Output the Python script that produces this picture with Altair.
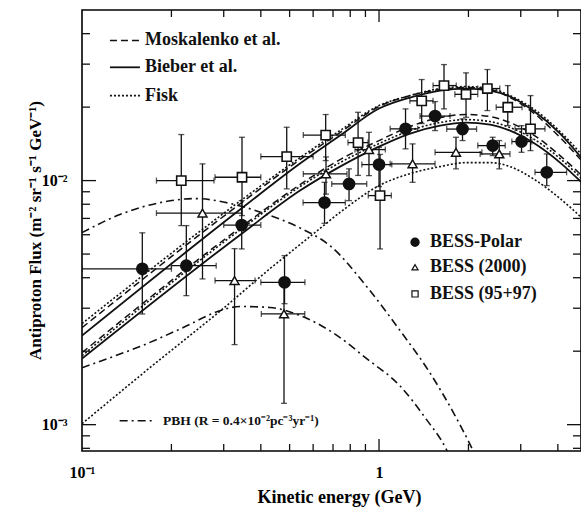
import altair as alt
import pandas as pd

FONT = "Liberation Serif"
XMIN, XMAX = 0.1, 4.786
YMIN, YMAX = 0.00078, 0.05
W, H = 499, 441

# ---- model curves ----
band_x = [0.1, 0.3484, 0.542, 0.739, 1.0, 1.2717, 1.6046, 1.963, 2.364, 2.761, 3.300, 4.069, 5.01]
upper_bieber = [0.002316, 0.007773, 0.01174, 0.01529, 0.01973, 0.02189, 0.02338, 0.02383, 0.02338, 0.02210, 0.01936, 0.01558, 0.01163]
upper_fisk = [0.002594, 0.008414, 0.01242, 0.01603, 0.02030, 0.02230, 0.02383, 0.02428, 0.02383, 0.02230, 0.01973, 0.01588, 0.01208]
upper_mosk = [0.002497, 0.00820, 0.01219, 0.01573, 0.02011, 0.02230, 0.02360, 0.02405, 0.02360, 0.02189, 0.01900, 0.01501, 0.01141]
lower_mosk = [0.001972, 0.00654, 0.009629, 0.01219, 0.01459, 0.01665, 0.01812, 0.01865, 0.01829, 0.01729, 0.01544, 0.01266, 0.0100]
lower_fisk = [0.001917, 0.006417, 0.009449, 0.01185, 0.01418, 0.01603, 0.01729, 0.01778, 0.01745, 0.01649, 0.01486, 0.01231, 0.00972]
lower_bieber = [0.001864, 0.006119, 0.00910, 0.01141, 0.01378, 0.01558, 0.01680, 0.01729, 0.01696, 0.01603, 0.01431, 0.01185, 0.00936]

low_fisk_x = [0.1, 0.1694, 0.2984, 0.4296, 0.5856, 0.7682, 1.0, 1.2717, 1.6046, 1.963, 2.364, 2.761, 3.300, 4.069, 5.01]
low_fisk_y = [0.001009, 0.001713, 0.002988, 0.004358, 0.005895, 0.007678, 0.009539, 0.01068, 0.01141, 0.01185, 0.01185, 0.01141, 0.01019, 0.008438, 0.006728]

pbh1_x = [0.1, 0.1342, 0.1831, 0.2403, 0.3276, 0.4297, 0.542, 0.684, 0.904, 1.177, 1.484, 1.802, 2.057, 2.188]
pbh1_y = [0.00612, 0.00726, 0.00812, 0.00844, 0.00797, 0.00719, 0.00640, 0.00541, 0.00371, 0.00243, 0.00163, 0.00109, 0.000798, 0.000679]
pbh2_x = [0.1, 0.1242, 0.1567, 0.2193, 0.2915, 0.3403, 0.4297, 0.542, 0.7002, 0.9112, 1.177, 1.428, 1.694, 1.803]
pbh2_y = [0.00171, 0.00188, 0.00209, 0.00250, 0.00293, 0.00305, 0.00302, 0.00280, 0.00238, 0.00186, 0.00144, 0.00107, 0.000782, 0.00066]

# ---- data points ----
polar_x = [0.1596, 0.2245, 0.3449, 0.4807, 0.6554, 0.7925, 1.0, 1.228, 1.544, 1.910, 2.414, 3.018, 3.67]
polar_y = [0.00435, 0.00448, 0.006571, 0.00383, 0.008124, 0.00969, 0.01163, 0.01629, 0.01838, 0.01626, 0.01391, 0.01445, 0.01081]
polar_ylo = [0.00284, 0.003378, 0.005249, 0.003131, 0.006683, 0.00828, 0.00945, 0.01349, 0.01603, 0.01459, 0.01266, 0.01306, 0.00954]
polar_yhi = [0.00611, 0.00654, 0.00828, 0.004928, 0.00984, 0.01117, 0.01369, 0.01967, 0.02107, 0.01790, 0.01505, 0.01680, 0.01286]
polar_xlo = [0.1, 0.2, 0.3, 0.4, 0.555, 0.693, 0.875, 1.09, 1.374, 1.69, 2.15, 2.8, 3.35]
polar_xhi = [0.2, 0.283, 0.4, 0.563, 0.77, 0.909, 1.104, 1.35, 1.734, 2.13, 2.66, 3.27, 4.28]

b2000_x = [0.2545, 0.3263, 0.4787, 0.663, 0.925, 1.297, 1.816, 2.54]
b2000_y = [0.00736, 0.003892, 0.002842, 0.01065, 0.0134, 0.01171, 0.01306, 0.01286]
b2000_ylo = [0.003955, 0.002128, 0.001223, 0.0088, 0.01048, 0.00984, 0.01117, 0.01117]
b2000_yhi = [0.01171, 0.005264, 0.003714, 0.0125, 0.01577, 0.01414, 0.01505, 0.01459]
b2000_xlo = [0.1781, 0.2805, 0.4015, 0.556, 0.83, 1.09, 1.544, 2.19]
b2000_xhi = [0.3449, 0.3825, 0.5623, 0.78, 1.05, 1.544, 2.22, 2.76]

b9597_x = [0.2159, 0.3457, 0.4889, 0.6613, 0.8501, 1.008, 1.392, 1.655, 1.963, 2.316, 2.713, 3.236]
b9597_y = [0.0100, 0.01032, 0.01254, 0.01536, 0.01431, 0.00868, 0.02122, 0.02451, 0.02256, 0.02383, 0.01998, 0.01629]
b9597_ylo = [0.00654, 0.00719, 0.00925, 0.01208, 0.0105, 0.005248, 0.01713, 0.01967, 0.01817, 0.01936, 0.0168, 0.01327]
b9597_yhi = [0.01544, 0.01505, 0.01654, 0.01865, 0.01905, 0.0128, 0.02594, 0.02988, 0.02763, 0.02851, 0.02451, 0.0223]
b9597_xlo = [0.1781, 0.2805, 0.4, 0.556, 0.786, 0.92, 1.27, 1.52, 1.8, 2.15, 2.48, 2.87]
b9597_xhi = [0.2782, 0.4, 0.6, 0.77, 0.918, 1.1, 1.52, 1.82, 2.15, 2.55, 3.03, 3.62]

# ---- ticks ----
x_minor = [0.2, 0.3, 0.4, 0.5, 0.6, 0.7, 0.8, 0.9, 2, 3, 4]
x_major = [1.0]
y_minor = [0.0008, 0.0009, 0.002, 0.003, 0.004, 0.005, 0.006, 0.007, 0.008, 0.009, 0.02, 0.03, 0.04]
y_major = [0.001, 0.01]

# ---- legends (data coordinates) ----
model_names = ["Moskalenko et al.", "Bieber et al.", "Fisk"]
model_y = [0.0375, 0.02912, 0.0223]
model_line_x = [0.1242, 0.1567]
model_text_x = 0.163
exp_names = ["BESS-Polar", "BESS (2000)", "BESS (95+97)"]
exp_y = [0.005588, 0.004413, 0.003433]
exp_sym_x = 1.322
exp_text_x = 1.485
pbh_label = "PBH (R = 0.4\u00d710\u207b\u00b2pc\u207b\u00b3yr\u207b\u00b9)"
pbh_line_x = [0.1339, 0.1757]
pbh_text_x = 0.1874
pbh_y = 0.001038

xs = alt.Scale(type="log", domain=[XMIN, XMAX], nice=False)
ys = alt.Scale(type="log", domain=[YMIN, YMAX], nice=False)

xaxis = alt.Axis(values=[0.1, 1], labelExpr="datum.value < 0.5 ? '10\u207b\u00b9' : '1'",
                 ticks=False, domain=False, grid=False, labelFlush=False, labelOverlap=False,
                 labelFont=FONT, labelFontWeight="bold", labelFontSize=16, labelColor="black",
                 labelPadding=13, title="Kinetic energy (GeV)", titleFont=FONT,
                 titleFontWeight="bold", titleFontSize=18, titleColor="black",
                 titleX=257, titleY=46, titleBaseline="middle", titleAlign="center")
yaxis = alt.Axis(values=[0.001, 0.01], labelExpr="datum.value > 0.005 ? '10\u207b\u00b2' : '10\u207b\u00b3'",
                 ticks=False, domain=False, grid=False, labelFlush=False, labelOverlap=False,
                 labelFont=FONT, labelFontWeight="bold", labelFontSize=16, labelColor="black",
                 labelPadding=15, title="Antiproton Flux (m\u207b\u00b2 sr\u207b\u00b9 s\u207b\u00b9 GeV\u207b\u00b9)",
                 titleFont=FONT, titleFontWeight="bold", titleFontSize=17, titleColor="black",
                 titleX=-47, titleY=220, titleAngle=270, titleBaseline="middle", titleAlign="center")


def X(f):
    return alt.X(f, type="quantitative", scale=xs, axis=xaxis)


def Y(f):
    return alt.Y(f, type="quantitative", scale=ys, axis=yaxis)


INK = "#111111"
DASH = [7, 4]
DOT = [2, 2]
DASHDOT = [8, 4, 2, 4]


def curve(xv, yv, dash=None, width=1.5):
    df = pd.DataFrame({"x": xv, "y": yv})
    kw = dict(interpolate="monotone", clip=True, color=INK, strokeWidth=width)
    if dash:
        kw["strokeDash"] = dash
    return alt.Chart(df).mark_line(**kw).encode(x=X("x"), y=Y("y"))


layers = [
    curve(band_x, upper_bieber, None, 1.8),
    curve(band_x, upper_fisk, DOT, 1.6),
    curve(band_x, upper_mosk, DASH, 1.5),
    curve(band_x, lower_mosk, DASH, 1.5),
    curve(band_x, lower_fisk, DOT, 1.6),
    curve(band_x, lower_bieber, None, 1.8),
    curve(low_fisk_x, low_fisk_y, DOT, 1.6),
    curve(pbh1_x, pbh1_y, DASHDOT, 1.6),
    curve(pbh2_x, pbh2_y, DASHDOT, 1.6),
]


def points(xv, yv, ylo, yhi, xlo, xhi, marker):
    df = pd.DataFrame({"x": xv, "y": yv, "ylo": ylo, "yhi": yhi, "xlo": xlo, "xhi": xhi})
    base = alt.Chart(df)
    out = [
        base.mark_rule(color=INK, strokeWidth=1.3, clip=True).encode(x=X("x"), y=Y("ylo"), y2="yhi"),
        base.mark_rule(color=INK, strokeWidth=1.3, clip=True).encode(x=X("xlo"), x2="xhi", y=Y("y")),
        base.mark_tick(orient="horizontal", size=6, thickness=1.3, color=INK, clip=True).encode(x=X("x"), y=Y("yhi")),
        base.mark_tick(orient="horizontal", size=6, thickness=1.3, color=INK, clip=True).encode(x=X("x"), y=Y("ylo")),
        base.mark_tick(orient="vertical", size=6, thickness=1.3, color=INK, clip=True).encode(x=X("xlo"), y=Y("y")),
        base.mark_tick(orient="vertical", size=6, thickness=1.3, color=INK, clip=True).encode(x=X("xhi"), y=Y("y")),
    ]
    return out, base.mark_point(clip=True, opacity=1, **marker).encode(x=X("x"), y=Y("y"))


m_polar = dict(shape="circle", filled=True, fill=INK, stroke=INK, size=115)
m_2000 = dict(shape="triangle-up", filled=True, fill="white", stroke=INK, strokeWidth=1.5, size=80)
m_9597 = dict(shape="square", filled=True, fill="white", stroke=INK, strokeWidth=1.6, size=85)

e1, p1 = points(polar_x, polar_y, polar_ylo, polar_yhi, polar_xlo, polar_xhi, m_polar)
e2, p2 = points(b2000_x, b2000_y, b2000_ylo, b2000_yhi, b2000_xlo, b2000_xhi, m_2000)
e3, p3 = points(b9597_x, b9597_y, b9597_ylo, b9597_yhi, b9597_xlo, b9597_xhi, m_9597)
layers += e1 + e2 + e3 + [p2, p3, p1]

# ticks inside the frame
for vals, ln in [(x_minor, 7), (x_major, 12)]:
    d = pd.DataFrame({"v": vals})
    layers.append(alt.Chart(d).mark_rule(color=INK, strokeWidth=1.3).encode(
        x=X("v"), y=alt.value(H), y2=alt.value(H - ln)))
    layers.append(alt.Chart(d).mark_rule(color=INK, strokeWidth=1.3).encode(
        x=X("v"), y=alt.value(0), y2=alt.value(ln)))
for vals, ln in [(y_minor, 8), (y_major, 14)]:
    d = pd.DataFrame({"v": vals})
    layers.append(alt.Chart(d).mark_rule(color=INK, strokeWidth=1.3).encode(
        y=Y("v"), x=alt.value(0), x2=alt.value(ln)))
    layers.append(alt.Chart(d).mark_rule(color=INK, strokeWidth=1.3).encode(
        y=Y("v"), x=alt.value(W), x2=alt.value(W - ln)))

# model legend
mdf = pd.DataFrame({"name": model_names, "y": model_y,
                    "x0": [model_line_x[0]] * 3, "x1": [model_line_x[1]] * 3,
                    "tx": [model_text_x] * 3})
for i, dash in enumerate([DASH, None, DOT]):
    kw = dict(color=INK, strokeWidth=1.8 if dash is None else 1.6)
    if dash:
        kw["strokeDash"] = dash
    layers.append(alt.Chart(mdf.iloc[[i]]).mark_rule(**kw).encode(x=X("x0"), x2="x1", y=Y("y")))
layers.append(alt.Chart(mdf).mark_text(align="left", baseline="middle", font=FONT, fontWeight="bold",
                                       fontSize=18, color=INK).encode(x=X("tx"), y=Y("y"), text="name:N"))

# experiment legend
edf = pd.DataFrame({"name": exp_names, "y": exp_y, "sx": [exp_sym_x] * 3, "tx": [exp_text_x] * 3})
leg_marks = [dict(shape="circle", filled=True, fill=INK, stroke=INK, size=55),
             dict(shape="triangle-up", filled=True, fill="white", stroke=INK, strokeWidth=1.2, size=38),
             dict(shape="square", filled=True, fill="white", stroke=INK, strokeWidth=1.2, size=38)]
for i, mk in enumerate(leg_marks):
    layers.append(alt.Chart(edf.iloc[[i]]).mark_point(opacity=1, **mk).encode(x=X("sx"), y=Y("y")))
layers.append(alt.Chart(edf).mark_text(align="left", baseline="middle", font=FONT, fontWeight="bold",
                                       fontSize=18, color=INK).encode(x=X("tx"), y=Y("y"), text="name:N"))

# PBH legend
pdf = pd.DataFrame({"x0": [pbh_line_x[0]], "x1": [pbh_line_x[1]], "y": [pbh_y], "tx": [pbh_text_x],
                    "name": [pbh_label]})
layers.append(alt.Chart(pdf).mark_rule(color=INK, strokeWidth=1.6, strokeDash=DASHDOT).encode(
    x=X("x0"), x2="x1", y=Y("y")))
layers.append(alt.Chart(pdf).mark_text(align="left", baseline="middle", font=FONT, fontWeight="bold",
                                       fontSize=13.5, color=INK).encode(x=X("tx"), y=Y("y"), text="name:N"))

chart = alt.layer(*layers).properties(
    width=W, height=H,
    padding={"left": 82, "top": 10, "right": 0, "bottom": 57},
    autosize=alt.AutoSizeParams(type="none"),
    background="white",
).configure_view(stroke="black", strokeWidth=1.6)

chart.save("out.html", embed_options={"renderer": "svg", "actions": False})
